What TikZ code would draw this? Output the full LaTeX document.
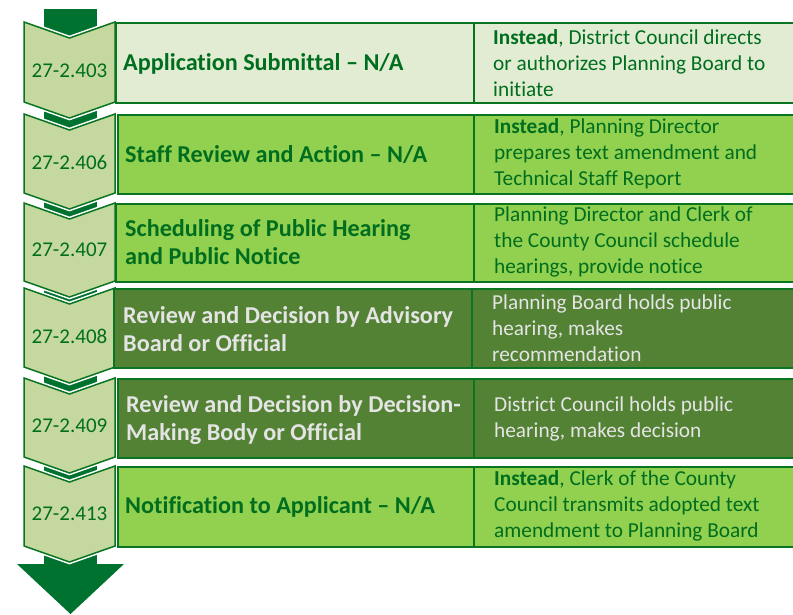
\documentclass[tikz,border=0pt]{standalone}
\usepackage{fontspec}
\setmainfont{Carlito}[Ligatures=NoCommon]
\definecolor{shaft}{HTML}{00722F}
\definecolor{bordergreen}{HTML}{0A7520}
\definecolor{txtgreen}{HTML}{006E1E}
\definecolor{chevfill}{HTML}{C5D8A0}
\definecolor{paleg}{HTML}{E2ECD3}
\definecolor{brightg}{HTML}{92D050}
\definecolor{darkg}{HTML}{548235}
\definecolor{lighttxt}{HTML}{E4E4E4}
\tikzset{
  cell/.style={draw=bordergreen, line width=1.5pt, anchor=north west, inner sep=0pt},
  chev/.style={fill=chevfill, draw=bordergreen, line width=1.5pt, line join=miter},
  halo/.style={draw=white, line width=4.5pt, line join=miter},
  numtxt/.style={text=txtgreen, font=\fontsize{21}{24}\selectfont, inner sep=0pt},
  lefttxt/.style={anchor=west, align=left, inner sep=0pt, font=\bfseries\fontsize{24.2}{28.5}\selectfont},
  righttxt/.style={anchor=west, align=left, inner sep=0pt, font=\fontsize{21.3}{26}\selectfont},
}
\newcommand\chevshape[2]{%
  \draw[halo] (24,#1) -- (69.5,#1+16) -- (115,#1) -- (115,#2) -- (69.5,#2+16) -- (24,#2) -- cycle;
  \draw[chev] (24,#1) -- (69.5,#1+16) -- (115,#1) -- (115,#2) -- (69.5,#2+16) -- (24,#2) -- cycle;}
\begin{document}
\begin{tikzpicture}[x=1pt,y=-1pt]
\useasboundingbox (0,0) rectangle (793,614);
\fill[white] (0,0) rectangle (793,614);
% shaft and head
\fill[shaft] (44,9) rectangle (97,566);
\fill[shaft] (17,564) -- (124,564) -- (70.5,614) -- cycle;
\coordinate (tip) at (70.5,614);
% chevrons
\chevshape{22}{102}
\chevshape{114}{193}
\chevshape{203}{281}
\chevshape{288}{367}
\chevshape{378}{457}
\chevshape{466}{546}
\node[numtxt] (n1) at (69.5,71) {27-2.403};
\node[numtxt] (n2) at (69.5,162) {27-2.406};
\node[numtxt] (n3) at (69.5,250) {27-2.407};
\node[numtxt] (n4) at (69.5,336) {27-2.408};
\node[numtxt] (n5) at (69.5,426) {27-2.409};
\node[numtxt] (n6) at (69.5,514) {27-2.413};
% row 1
\node[cell, fill=paleg, minimum width=358pt, minimum height=80pt] (l1) at (115,22) {};
\node[cell, fill=paleg, minimum width=322pt, minimum height=80pt] (r1) at (473,22) {};
\node[lefttxt, text=txtgreen] (lt1) at (123,64) {Application Submittal -- N/A};
\node[righttxt, text=txtgreen] (rt1) at (493,63) {\textbf{Instead}, District Council directs\\or authorizes Planning Board to\\initiate};
% row 2
\node[cell, fill=brightg, minimum width=356pt, minimum height=79pt] (l2) at (117,114) {};
\node[cell, fill=brightg, minimum width=322pt, minimum height=79pt] (r2) at (473,114) {};
\node[lefttxt, text=txtgreen] (lt2) at (125,155) {Staff Review and Action -- N/A};
\node[righttxt, text=txtgreen] (rt2) at (494,154) {\textbf{Instead}, Planning Director\\prepares text amendment and\\Technical Staff Report};
% row 3
\node[cell, fill=brightg, minimum width=358pt, minimum height=78pt] (l3) at (115,203) {};
\node[cell, fill=brightg, minimum width=322pt, minimum height=78pt] (r3) at (473,203) {};
\node[lefttxt, text=txtgreen] (lt3) at (125,242) {Scheduling of Public Hearing\\and Public Notice};
\node[righttxt, text=txtgreen] (rt3) at (494,242) {Planning Director and Clerk of\\the County Council schedule\\hearings, provide notice};
% row 4
\node[cell, fill=darkg, minimum width=358pt, minimum height=79pt] (l4) at (113,288) {};
\node[cell, fill=darkg, minimum width=324pt, minimum height=79pt] (r4) at (471,288) {};
\node[lefttxt, text=lighttxt] (lt4) at (123,329) {Review and Decision by Advisory\\Board or Official};
\node[righttxt, text=lighttxt] (rt4) at (492,328) {Planning Board holds public\\hearing, makes\\recommendation};
% row 5
\node[cell, fill=darkg, minimum width=356pt, minimum height=79pt] (l5) at (117,378) {};
\node[cell, fill=darkg, minimum width=322pt, minimum height=79pt] (r5) at (473,378) {};
\node[lefttxt, text=lighttxt] (lt5) at (126,420) {Review and Decision by Decision-\\Making Body or Official};
\node[righttxt, text=lighttxt] (rt5) at (494,419) {District Council holds public\\hearing, makes decision};
% row 6
\node[cell, fill=brightg, minimum width=356pt, minimum height=80pt] (l6) at (117,466) {};
\node[cell, fill=brightg, minimum width=322pt, minimum height=80pt] (r6) at (473,466) {};
\node[lefttxt, text=txtgreen] (lt6) at (125,507) {Notification to Applicant -- N/A};
\node[righttxt, text=txtgreen] (rt6) at (494,506) {\textbf{Instead}, Clerk of the County\\Council transmits adopted text\\amendment to Planning Board};
\end{tikzpicture}
\end{document}
